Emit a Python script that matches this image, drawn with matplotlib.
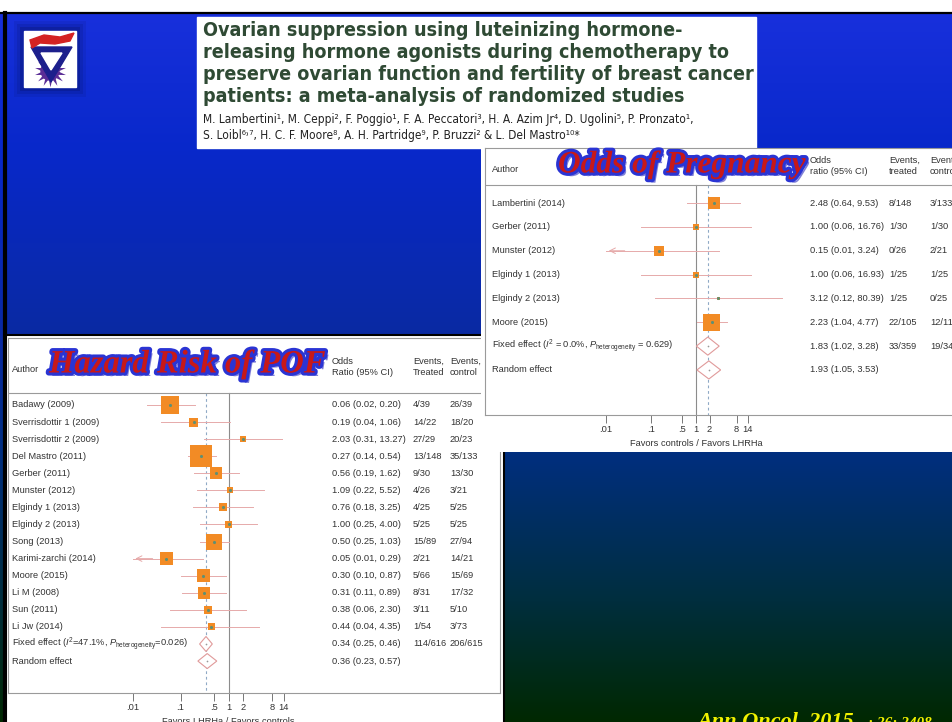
import numpy as np
import matplotlib
matplotlib.use('Agg')
import matplotlib.pyplot as plt
import matplotlib.patches as mpatches
import matplotlib.patheffects as pe
from matplotlib import font_manager
from matplotlib.font_manager import FontProperties
from matplotlib.transforms import blended_transform_factory

W, H = 952, 722

# ---- Hazard risk of POF (left forest plot)
pof_authors = ['Badawy (2009)', 'Sverrisdottir 1 (2009)', 'Sverrisdottir 2 (2009)',
               'Del Mastro (2011)', 'Gerber (2011)', 'Munster (2012)', 'Elgindy 1 (2013)',
               'Elgindy 2 (2013)', 'Song (2013)', 'Karimi-zarchi (2014)', 'Moore (2015)',
               'Li M (2008)', 'Sun (2011)', 'Li Jw (2014)']
pof_or = [0.06, 0.19, 2.03, 0.27, 0.56, 1.09, 0.76, 1.00, 0.50, 0.05, 0.30, 0.31, 0.38, 0.44]
pof_lo = [0.02, 0.04, 0.31, 0.14, 0.19, 0.22, 0.18, 0.25, 0.25, 0.01, 0.10, 0.11, 0.06, 0.04]
pof_hi = [0.20, 1.06, 13.27, 0.54, 1.62, 5.52, 3.25, 4.00, 1.03, 0.29, 0.87, 0.89, 2.30, 4.35]
pof_weight = [15.7, 3.9, 1.7, 23.4, 7.0, 1.7, 3.1, 2.4, 12.4, 8.2, 8.2, 7.0, 3.1, 2.4]
pof_treated = ['4/39', '14/22', '27/29', '13/148', '9/30', '4/26', '4/25', '5/25', '15/89',
               '2/21', '5/66', '8/31', '3/11', '1/54', '114/616', '']
pof_control = ['26/39', '18/20', '20/23', '35/133', '13/30', '3/21', '5/25', '5/25', '27/94',
               '14/21', '15/69', '17/32', '5/10', '3/73', '206/615', '']
pof_pooled_labels = [r'Fixed effect ($I^2$=47.1%, $P_{\mathrm{heterogeneity}}$=0.026)',
                     'Random effect']
pof_pooled_or = [0.34, 0.36]
pof_pooled_lo = [0.25, 0.23]
pof_pooled_hi = [0.46, 0.57]

# ---- Odds of pregnancy (right forest plot)
preg_authors = ['Lambertini (2014)', 'Gerber (2011)', 'Munster (2012)', 'Elgindy 1 (2013)',
                'Elgindy 2 (2013)', 'Moore (2015)']
preg_or = [2.48, 1.00, 0.15, 1.00, 3.12, 2.23]
preg_lo = [0.64, 0.06, 0.01, 0.06, 0.12, 1.04]
preg_hi = [9.53, 16.76, 3.24, 16.93, 80.39, 4.77]
preg_weight = [23.5, 5.9, 16.3, 5.9, 1.5, 47.1]
preg_treated = ['8/148', '1/30', '0/26', '1/25', '1/25', '22/105', '33/359', '']
preg_control = ['3/133', '1/30', '2/21', '1/25', '0/25', '12/113', '19/347', '']
preg_pooled_labels = [r'Fixed effect ($I^2$ = 0.0%, $P_{\mathrm{heterogeneity}}$ = 0.629)',
                      'Random effect']
preg_pooled_or = [1.83, 1.93]
preg_pooled_lo = [1.02, 1.05]
preg_pooled_hi = [3.28, 3.53]

tick_vals = [0.01, 0.1, 0.5, 1, 2, 8, 14]
tick_labels = ['.01', '.1', '.5', '1', '2', '8', '14']

title_lines = ['Ovarian suppression using luteinizing hormone-',
               'releasing hormone agonists during chemotherapy to',
               'preserve ovarian function and fertility of breast cancer',
               'patients: a meta-analysis of randomized studies']
author_lines = ['M. Lambertini\u00b9, M. Ceppi\u00b2, F. Poggio\u00b9, F. A. Peccatori\u00b3, '
                'H. A. Azim Jr\u2074, D. Ugolini\u2075, P. Pronzato\u00b9,',
                'S. Loibl\u2076\u02d2\u2077, H. C. F. Moore\u2078, A. H. Partridge\u2079, '
                'P. Bruzzi\u00b2 & L. Del Mastro\u00b9\u2070*']

SQ_COLOR = '#f28b25'
DOT_COLOR = '#5f8f73'
CI_COLOR = '#e6aaaa'
DIA_COLOR = '#e09a9a'
DASH_COLOR = '#8fa9c6'
TXT = '#333333'
FS = 6.7

SANS = 'Liberation Sans'
SERIF = 'Liberation Serif'


def condensed_font(bold):
    # look for a narrow / condensed sans face; fall back to the plain sans
    pref = ['Liberation Sans Narrow', 'DejaVu Sans', 'Roboto', 'Open Sans', 'Noto Sans']
    found = []
    for f in font_manager.fontManager.ttflist:
        narrow = f.stretch in ('condensed', 'semi-condensed', 'extra-condensed') \
            or 'Narrow' in f.name or 'Condensed' in f.name
        isbold = f.weight in (600, 700, 'bold', 'semibold', 'demibold')
        if narrow and isbold == bold and f.style == 'normal':
            rank = next((i for i, p in enumerate(pref) if f.name.startswith(p)), 99)
            found.append((rank, f.fname))
    if found:
        return FontProperties(fname=sorted(found)[0][1])
    return FontProperties(family=SANS, weight='bold' if bold else 'normal')


plt.rcParams['font.family'] = [SANS, 'DejaVu Sans']
plt.rcParams['mathtext.fontset'] = 'custom'
plt.rcParams['mathtext.rm'] = SANS
plt.rcParams['mathtext.it'] = SANS + ':italic'

fig = plt.figure(figsize=(W / 100, H / 100), dpi=100)
renderer = fig.canvas.get_renderer()


def px_axes(x0, y0, x1, y1, **kw):
    return fig.add_axes([x0 / W, 1 - y1 / H, (x1 - x0) / W, (y1 - y0) / H], **kw)


def fit_width(texts, ref, target):
    # scale a group of texts so that the reference line spans target pixels
    w = ref.get_window_extent(renderer).width
    for t in texts:
        t.set_fontsize(t.get_fontsize() * target / w)


# ---- slide background
bg = px_axes(0, 0, W, H, zorder=0)
bg.set_xlim(0, W)
bg.set_ylim(H, 0)
bg.axis('off')
stops_y = np.array([14, 150, 335, 450, 600, 722])
stops_c = np.array([[24, 48, 220], [8, 40, 202], [10, 42, 162], [0, 46, 128],
                    [0, 46, 62], [0, 40, 0]]) / 255
yy = np.arange(14, H)
grad = np.stack([np.interp(yy, stops_y, stops_c[:, i]) for i in range(3)], axis=1)
bg.imshow(grad[:, None, :], extent=(0, W, H, 14), aspect='auto', zorder=0)
bg.add_patch(mpatches.Rectangle((0, 0), W, 12, color='white', zorder=1))
bg.plot([0, W], [13, 13], color='black', lw=1.6, zorder=2)
bg.plot([5, 5], [13, H], color='black', lw=3, zorder=2)

# logo
for pad, a in [(10, 0.10), (7, 0.15), (4, 0.25)]:
    bg.add_patch(mpatches.Rectangle((24 - pad, 31 - pad), 52 + 2 * pad, 56 + 2 * pad,
                                    color='#06105a', alpha=a, lw=0, zorder=2))
bg.add_patch(mpatches.Rectangle((24, 31), 52, 56, color='white', zorder=3))
bg.scatter([50], [71], s=520, marker=(14, 1, 0), color='#5a2d96', lw=0, zorder=4)
bg.add_patch(mpatches.Circle((50, 71), 9, color='#5a2d96', zorder=4))
bg.add_patch(mpatches.Circle((50, 71), 4, color='white', zorder=4))
bg.add_patch(mpatches.Polygon([(31, 47), (72, 47), (51, 82)], color='#1c1f8c', zorder=5))
bg.add_patch(mpatches.Polygon([(41, 53), (62, 53), (51, 70)], color='white', zorder=5))
bg.add_patch(mpatches.Polygon([(30, 40), (44, 35), (60, 37), (74, 33), (70, 41), (55, 44),
                               (40, 43), (32, 48)], color='#d42222', zorder=6))

# title box
bg.add_patch(mpatches.Rectangle((197, 17), 559, 131, color='white', zorder=2))
title_fp = condensed_font(True)
title_txt = [bg.text(203, 30 + 22 * i, line, fontproperties=title_fp, fontsize=13,
                     color='#2f4a34', va='center', ha='left', zorder=3)
             for i, line in enumerate(title_lines)]
fit_width(title_txt, title_txt[2], 549)
if title_txt[0].get_fontsize() > 14.2:
    # a wide face: keep the line height close to the original slide
    for t in title_txt:
        t.set_fontsize(14.2)
auth_fp = condensed_font(False)
auth_txt = [bg.text(203, 119 + 17 * i, line, fontproperties=auth_fp, fontsize=8,
                    color='#222222', va='center', ha='left', zorder=3)
            for i, line in enumerate(author_lines)]
fit_width(auth_txt, auth_txt[0], 545)
if auth_txt[0].get_fontsize() > 8.6:
    for t in auth_txt:
        t.set_fontsize(8.6)

# left panel paper
bg.add_patch(mpatches.Rectangle((6, 335), 498, 390, facecolor='white', edgecolor='black',
                                lw=1.5, zorder=2))

# citation
bg.text(697, 727, 'Ann Oncol. 2015', fontsize=16, family=SERIF, fontweight='bold',
        fontstyle='italic', color='#f2f200', va='baseline', zorder=3)
bg.text(868, 727, '; 26: 2408', fontsize=11, family=SERIF, fontweight='bold',
        fontstyle='italic', color='#f2f200', va='baseline', zorder=3)

wordart = [pe.SimplePatchShadow(offset=(2.5, -2.5), shadow_rgbFace='#6a6ad0', alpha=0.85),
           pe.Stroke(linewidth=4.4, foreground='#2a34d4'), pe.Normal()]


def draw_forest(ax, authors, ors, los, his, weights, pooled_labels, pooled_or, pooled_lo,
                pooled_hi, treated, control, k, dia_h, sep_row, ylim, cols, hdr_y,
                hdr_texts, xlabel, xlabel_y, title, title_xy, title_size):
    px = bg.transData
    rowtr = blended_transform_factory(px, ax.transData)
    ax.set_xscale('log')
    ax.set_ylim(*ylim)
    ax.set_facecolor('none')
    rows = np.arange(len(ors))
    for r, o, lo, hi in zip(rows, ors, los, his):
        ax.plot([lo, hi], [r, r], color=CI_COLOR, lw=0.7, zorder=2)
        if lo <= 0.01:
            ax.annotate('', xy=(lo, r), xytext=(lo * 3, r),
                        arrowprops=dict(arrowstyle='->', color=CI_COLOR, lw=0.7))
    sides = k * np.sqrt(np.array(weights))
    ax.scatter(ors, rows, s=(sides * 0.72) ** 2, marker='s', color=SQ_COLOR, lw=0, zorder=3)
    ax.scatter(ors, rows, s=5, color=DOT_COLOR, lw=0, zorder=4)
    prow = np.arange(len(ors), len(ors) + len(pooled_or))
    for r, o, lo, hi in zip(prow, pooled_or, pooled_lo, pooled_hi):
        ax.fill([lo, o, hi, o], [r, r - dia_h, r, r + dia_h], facecolor='white',
                edgecolor=DIA_COLOR, lw=0.8, zorder=3)
        ax.scatter([o], [r], s=1.5, color='#999999', lw=0, zorder=4)
    ax.plot([1, 1], [sep_row, ylim[0]], color='#8c8c8c', lw=0.8, zorder=1)
    ax.plot([pooled_or[0]] * 2, [sep_row, ylim[0]], color=DASH_COLOR, lw=0.8,
            ls=(0, (2.5, 2.5)), zorder=1)
    ax.axhline(sep_row, color='#9a9a9a', lw=0.8)

    ax.set_xticks(tick_vals)
    ax.set_xticklabels(tick_labels)
    ax.minorticks_off()
    ax.set_yticks([])
    ax.tick_params(axis='x', direction='out', length=5.5, width=0.7, color='#777777',
                   labelsize=FS, labelcolor=TXT, pad=2)
    for s in ax.spines.values():
        s.set_color('#9a9a9a')
        s.set_linewidth(0.8)

    labels = list(authors) + list(pooled_labels)
    ratios = ['%.2f (%.2f, %.2f)' % v for v in zip(ors, los, his)]
    ratios += ['%.2f (%.2f, %.2f)' % v for v in zip(pooled_or, pooled_lo, pooled_hi)]
    for r in range(len(labels)):
        for c, s in zip(cols, [labels[r], ratios[r], treated[r], control[r]]):
            ax.text(c, r, s, transform=rowtr, fontsize=FS, color=TXT, va='center',
                    clip_on=False)
    ax.text(cols[0], hdr_y + 3, 'Author', transform=px, fontsize=FS, color=TXT,
            va='center', clip_on=False)
    for c, t in zip(cols[1:], hdr_texts):
        ax.text(c, hdr_y, t, transform=px, fontsize=FS, color=TXT, va='center',
                linespacing=1.25, clip_on=False)
    xl = blended_transform_factory(ax.transData, px)
    ax.text(1, xlabel_y, xlabel, transform=xl, fontsize=FS, color=TXT, ha='center',
            va='center', clip_on=False)
    ax.text(title_xy[0], title_xy[1], title, transform=px, fontsize=title_size,
            family=SERIF, fontweight='bold', fontstyle='italic', color='#c81818',
            va='center', ha='left', path_effects=wordart, clip_on=False, zorder=6)


# ---- left: hazard risk of POF
ax_l = px_axes(8, 338, 500, 693, zorder=1)
ax_l.set_xlim(10 ** ((8 - 228.5) / 48), 10 ** ((500 - 228.5) / 48))
draw_forest(ax_l, pof_authors, pof_or, pof_lo, pof_hi, pof_weight, pof_pooled_labels,
            pof_pooled_or, pof_pooled_lo, pof_pooled_hi, pof_treated, pof_control,
            k=4.55, dia_h=0.44, sep_row=-0.70, ylim=(16.87, -3.92),
            cols=[12, 332, 413, 450], hdr_y=367,
            hdr_texts=['Odds\nRatio (95% CI)', 'Events,\nTreated', 'Events,\ncontrol'],
            xlabel='Favors LHRHa / Favors controls', xlabel_y=722,
            title='Hazard Risk of POF', title_xy=(49, 364), title_size=23.5)

# ---- right: odds of pregnancy
ax_rbg = px_axes(481, 148, 952, 452, zorder=2)
ax_rbg.axis('off')
ax_rbg.add_patch(mpatches.Rectangle((0, 0), 1, 1, transform=ax_rbg.transAxes,
                                    facecolor='white', edgecolor='none'))
ax_r = px_axes(485, 148, 975, 415, zorder=3)
ax_r.set_xlim(10 ** ((485 - 696) / 45), 10 ** ((975 - 696) / 45))
draw_forest(ax_r, preg_authors, preg_or, preg_lo, preg_hi, preg_weight, preg_pooled_labels,
            preg_pooled_or, preg_pooled_lo, preg_pooled_hi, preg_treated, preg_control,
            k=2.48, dia_h=0.38, sep_row=-0.75, ylim=(8.89, -2.31),
            cols=[492, 810, 889, 930], hdr_y=166,
            hdr_texts=['Odds\nratio (95% CI)', 'Events,\ntreated', 'Events,\ncontrol'],
            xlabel='Favors controls / Favors LHRHa', xlabel_y=443,
            title='Odds of Pregnancy', title_xy=(558, 165), title_size=22.6)

fig.savefig('out.png', dpi=100)
